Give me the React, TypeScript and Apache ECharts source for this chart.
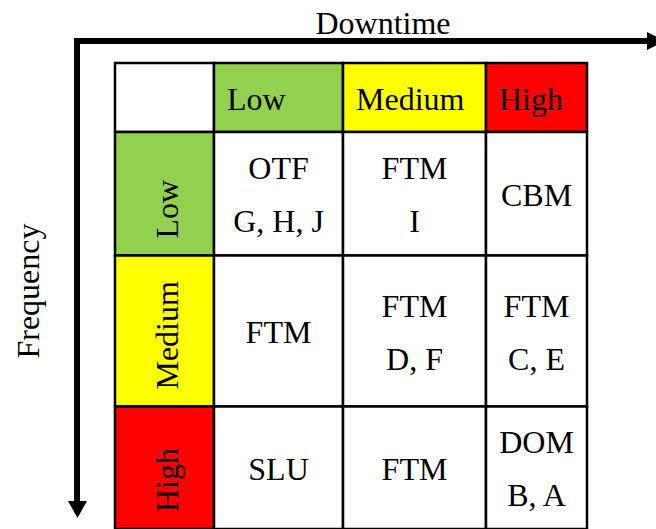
import React, { useEffect, useRef } from "react";
import * as echarts from "echarts";

// ---- data ----
const downtimeLevels = ["Low", "Medium", "High"];
const frequencyLevels = ["Low", "Medium", "High"];
// rows = frequency (Low, Medium, High), cols = downtime (Low, Medium, High)
const strategyCodes = [
  ["OTF", "FTM", "CBM"],
  ["FTM", "FTM", "FTM"],
  ["SLU", "FTM", "DOM"],
];
const componentLists = [
  ["G, H, J", "I", ""],
  ["", "D, F", "C, E"],
  ["", "", "B, A"],
];
const axisTitles = { x: "Downtime", y: "Frequency" };

// ---- layout / style ----
const levelColor: Record<string, string> = {
  Low: "#92D050",
  Medium: "#FFFF00",
  High: "#FF0000",
};
const colWeights = [99, 129, 143, 101];
const rowWeights = [70, 125, 153, 124];
const FONT = '"Liberation Serif", "Times New Roman", serif';
const FS = 32;

const edges = (w: number[]) => {
  const e = [0];
  w.forEach((v) => e.push(e[e.length - 1] + v));
  return e;
};
const colEdges = edges(colWeights);
const rowEdges = edges(rowWeights);

type Cell = { col: number; row: number; text: string; fill: string; kind: "corner" | "colHead" | "rowHead" | "body" };

const cells: Cell[] = [];
cells.push({ col: 0, row: 0, text: "", fill: "#FFFFFF", kind: "corner" });
downtimeLevels.forEach((d, i) =>
  cells.push({ col: i + 1, row: 0, text: d, fill: levelColor[d], kind: "colHead" })
);
frequencyLevels.forEach((f, r) => {
  cells.push({ col: 0, row: r + 1, text: f, fill: levelColor[f], kind: "rowHead" });
  downtimeLevels.forEach((_, c) => {
    const code = strategyCodes[r][c];
    const comp = componentLists[r][c];
    cells.push({
      col: c + 1,
      row: r + 1,
      text: comp ? code + "\n" + comp : code,
      fill: "#FFFFFF",
      kind: "body",
    });
  });
});

export default function App() {
  const ref = useRef<HTMLDivElement>(null);
  useEffect(() => {
    document.body.style.margin = "0";
    const chart = echarts.init(ref.current!, null, { renderer: "svg" });
    const textBase = { fontFamily: FONT, fontSize: FS, fill: "#000" };
    chart.setOption({
      animation: false,
      grid: { left: 115, top: 63, width: 472, height: 472 },
      xAxis: { type: "value", min: 0, max: colEdges[colEdges.length - 1], show: false },
      yAxis: { type: "value", min: 0, max: rowEdges[rowEdges.length - 1], inverse: true, show: false },
      series: [
        {
          type: "custom",
          clip: false,
          data: cells.map((c) => [c.col, c.row]),
          renderItem: (params: any, api: any) => {
            const cell = cells[params.dataIndex];
            const c = api.value(0);
            const r = api.value(1);
            const p0 = api.coord([colEdges[c], rowEdges[r]]);
            const p1 = api.coord([colEdges[c + 1], rowEdges[r + 1]]);
            const x = p0[0], y = p0[1];
            const w = p1[0] - p0[0], h = p1[1] - p0[1];
            const children: any[] = [
              {
                type: "rect",
                shape: { x, y, width: w, height: h },
                style: { fill: cell.fill, stroke: "#000", lineWidth: 2.5 },
              },
            ];
            if (cell.kind === "colHead") {
              children.push({
                type: "text",
                x: x + 13,
                y: y + h / 2 + 1,
                style: { ...textBase, text: cell.text, align: "left", verticalAlign: "middle" },
              });
            } else if (cell.kind === "rowHead") {
              children.push({
                type: "text",
                x: x + w / 2 + 2,
                y: y + h - 17,
                rotation: Math.PI / 2,
                style: { ...textBase, text: cell.text, align: "left", verticalAlign: "middle" },
              });
            } else if (cell.kind === "body") {
              children.push({
                type: "text",
                x: x + w / 2,
                y: y + h / 2 + 1,
                style: {
                  ...textBase,
                  text: cell.text,
                  align: "center",
                  verticalAlign: "middle",
                  lineHeight: 53,
                },
              });
            }
            return { type: "group", children };
          },
        },
      ],
      graphic: [
        {
          type: "polyline",
          shape: { points: [[77, 502], [77, 41], [648, 41]] },
          style: { stroke: "#000", lineWidth: 6, fill: "none", lineJoin: "miter" },
        },
        {
          type: "polygon",
          shape: { points: [[647, 32], [647, 50], [665, 41]] },
          style: { fill: "#000" },
        },
        {
          type: "polygon",
          shape: { points: [[68, 501], [87, 501], [77.5, 518]] },
          style: { fill: "#000" },
        },
        {
          type: "text",
          x: 383,
          y: 23,
          style: { ...textBase, text: axisTitles.x, align: "center", verticalAlign: "middle" },
        },
        {
          type: "text",
          x: 28,
          y: 291,
          rotation: Math.PI / 2,
          style: { ...textBase, text: axisTitles.y, align: "center", verticalAlign: "middle" },
        },
      ],
    });
    return () => chart.dispose();
  }, []);
  return <div ref={ref} style={{ width: 656, height: 529 }} />;
}
